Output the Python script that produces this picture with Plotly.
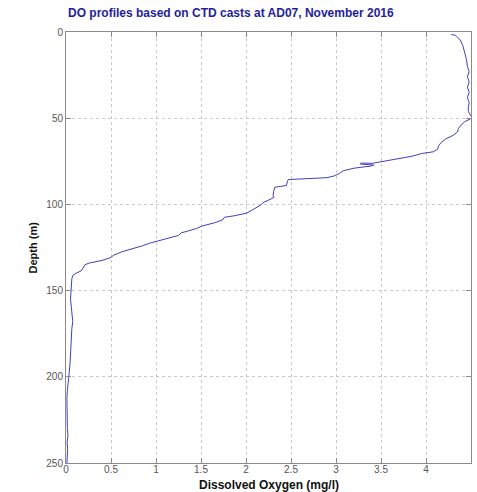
import plotly.graph_objects as go

depth_m = [1.5, 1.8, 2.5, 4.6, 8, 12, 16, 20, 23, 26, 29, 32, 35, 38, 41, 44, 46, 48, 49.5,
           50.5, 52, 54, 56, 58, 60, 62, 64, 66, 68, 69.5, 70.5, 72, 74, 75.5, 76.2, 76.0,
           76.6, 77.2, 77.8, 79, 80.5, 82, 83.5, 84.5, 85.3, 85.6, 86.5, 89, 89.6, 90, 92,
           94.6, 96, 97.5, 99, 100.5, 103, 105, 106.5, 107.5, 109, 110.5, 112.6, 114, 115.5,
           116.5, 118, 120, 121, 122.5, 124, 125.9, 127.5, 129.5, 131, 132.5, 134, 135,
           136.5, 138.5, 140, 141, 143, 146, 150, 155, 160, 165, 168, 172, 178, 185, 192,
           198, 204, 208, 212, 218, 224, 230, 234, 238, 242, 246, 250]
do_mgl = [4.28, 4.32, 4.34, 4.38, 4.41, 4.43, 4.45, 4.46, 4.48, 4.46, 4.48, 4.46, 4.48, 4.46,
          4.48, 4.47, 4.47, 4.49, 4.51,
          4.49, 4.43, 4.39, 4.36, 4.35, 4.30, 4.22, 4.17, 4.14, 4.13, 4.08, 3.95, 3.85, 3.65,
          3.50, 3.40, 3.28, 3.27, 3.42, 3.38, 3.20, 3.08, 3.04, 2.98, 2.90, 2.60, 2.47, 2.46,
          2.45, 2.38, 2.32, 2.31, 2.30, 2.31, 2.24, 2.19, 2.16, 2.08, 2.01, 1.88, 1.76, 1.74,
          1.66, 1.51, 1.45, 1.35, 1.28, 1.25, 1.10, 1.02, 0.93, 0.85, 0.71, 0.62, 0.53, 0.49,
          0.40, 0.26, 0.21, 0.19, 0.17, 0.11, 0.08, 0.065, 0.06, 0.055, 0.05, 0.06, 0.07,
          0.075, 0.065, 0.06, 0.055, 0.045, 0.035, 0.02, 0.015, 0.01, 0.01, 0.012, 0.015,
          0.022, 0.012, 0.018, 0.01, 0.01]

x_ticks = [0, 0.5, 1, 1.5, 2, 2.5, 3, 3.5, 4, 4.5]
x_tick_labels = ["0", "0.5", "1", "1.5", "2", "2.5", "3", "3.5", "4", "4.5"]
y_ticks = [0, 50, 100, 150, 200, 250]
y_tick_labels = ["0", "50", "100", "150", "200", "250"]

title_text = "DO profiles based on CTD casts at AD07, November 2016"
x_title = "Dissolved Oxygen (mg/l)"
y_title = "Depth (m)"

fig = go.Figure()
fig.add_trace(go.Scatter(x=do_mgl, y=depth_m, mode="lines",
                         line=dict(color="#4040b8", width=1), showlegend=False))

axis_common = dict(
    showline=True, linecolor="#8a8a8a", linewidth=1, mirror="ticks",
    ticks="inside", ticklen=5, tickcolor="#8a8a8a", tickwidth=1,
    showgrid=True, gridcolor="#c8c8c8", gridwidth=1, griddash="dot",
    zeroline=False, tickfont=dict(family="Liberation Sans, Arial", size=10, color="#555555"),
)

fig.update_xaxes(range=[0, 4.5], tickvals=x_ticks, ticktext=x_tick_labels,
                 ticklabelstandoff=-3, **axis_common)
fig.update_yaxes(range=[250, 0], tickvals=y_ticks, ticktext=y_tick_labels, **axis_common)

fig.update_layout(
    width=477, height=492,
    margin=dict(l=66, r=6, t=32, b=29),
    plot_bgcolor="white", paper_bgcolor="white",
    annotations=[
        dict(text="<b>" + title_text + "</b>", xref="paper", yref="paper", x=0, y=1,
             xanchor="left", yanchor="bottom", yshift=10, showarrow=False,
             font=dict(family="Liberation Sans, Arial", size=12, color="#1e1ea0")),
        dict(text="<b>" + x_title + "</b>", xref="paper", yref="paper", x=0.5, y=0,
             xanchor="center", yanchor="middle", yshift=-22, showarrow=False,
             font=dict(family="Liberation Sans, Arial", size=12, color="#111111")),
        dict(text="<b>" + y_title + "</b>", xref="paper", yref="paper", x=0, y=0.5,
             xanchor="center", yanchor="middle", xshift=-34, textangle=-90, showarrow=False,
             font=dict(family="Liberation Sans, Arial", size=11, color="#111111")),
    ],
)

fig.write_html("out.html")
